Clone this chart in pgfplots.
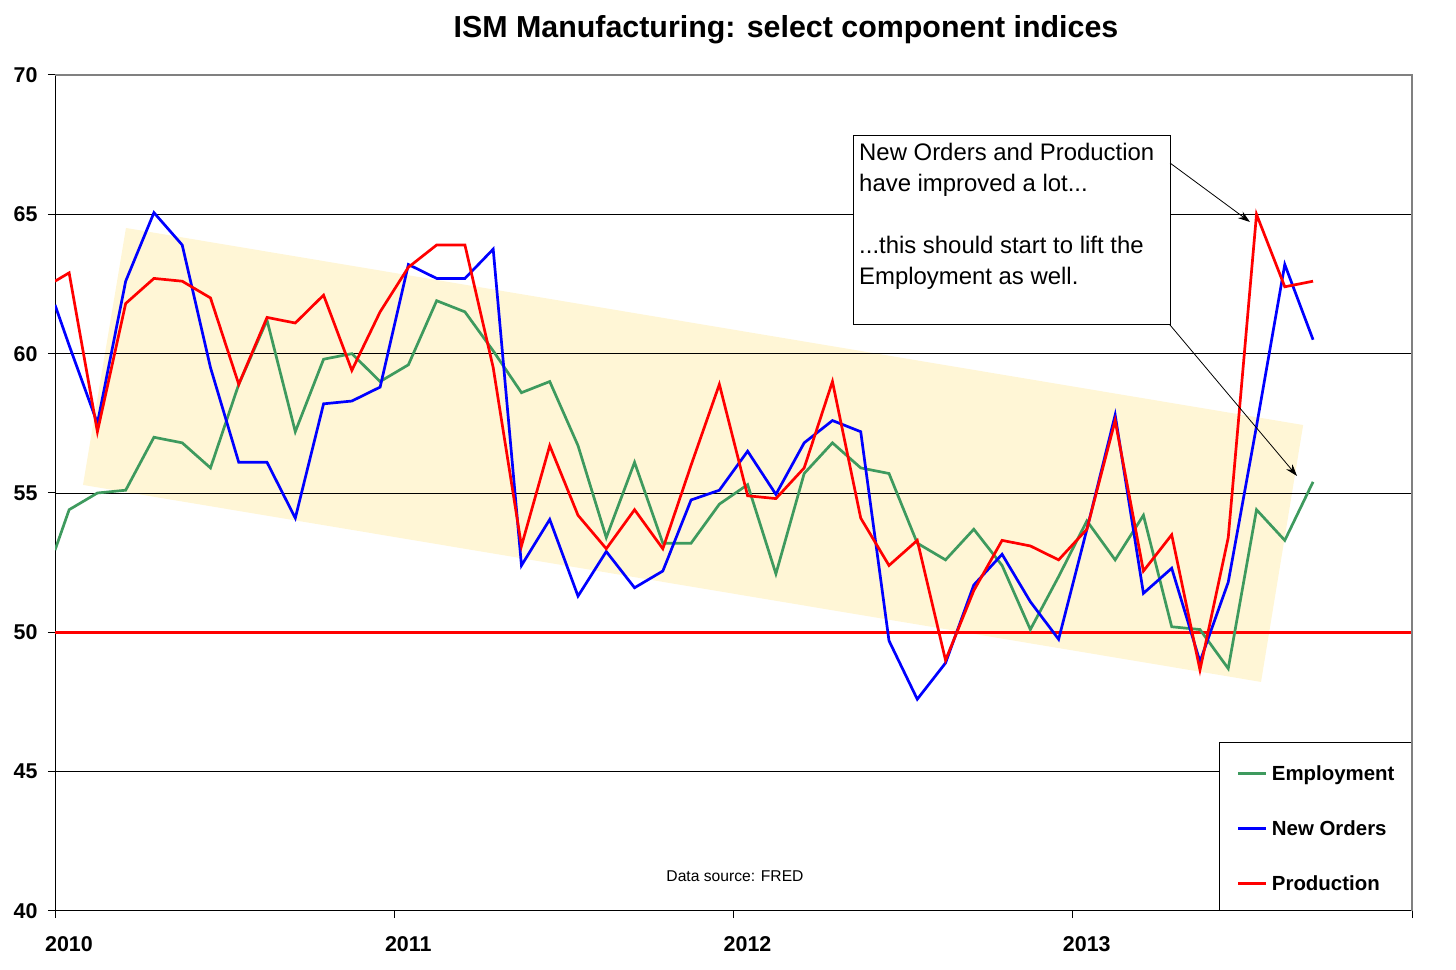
\documentclass[border=0pt]{standalone}
\usepackage{pgfplots}
\pgfplotsset{compat=1.18}
\usepackage{fontspec}
\setmainfont{Liberation Sans}
\usetikzlibrary{arrows.meta}
\definecolor{empgreen}{RGB}{62,154,94}
\definecolor{bandyellow}{RGB}{255,246,214}
\definecolor{bordergray}{RGB}{128,128,128}

\begin{document}
\begin{tikzpicture}
\path (0,0) rectangle (1456bp,970bp);
\begin{axis}[
  at={(55bp,59bp)}, anchor=south west,
  scale only axis, width=1357bp, height=836bp,
  xmin=0, xmax=48, ymin=40, ymax=70,
  axis x line*=bottom, axis y line*=left,
  axis line style={black, line width=1bp},
  xtick={0,12,24,36,48}, xticklabels={2010,2011,2012,2013,},
  ytick={40,45,...,70},
  tick align=outside, major tick length=7bp,
  tick style={black, line width=1bp},
  tick label style={font=\fontsize{21.5}{25}\selectfont\bfseries},
  /pgf/number format/assume math mode=true,
  xticklabel style={xshift=14bp, yshift=-15bp},
  yticklabel style={xshift=-7bp},
  legend style={at={(1,0)}, anchor=south east, draw=black, line width=1bp, fill=white,
    font=\fontsize{20.5}{24}\selectfont\bfseries, inner xsep=17bp, inner ysep=19bp,
    row sep=35bp, column sep=4bp,
    nodes={text height=19bp, text depth=1bp, inner sep=0pt}},
  legend cell align=left,
  legend image code/.code={\draw[#1, line width=3bp] (0bp,-2bp) -- (28bp,-2bp);},
]
\addplot[fill=bandyellow, draw=none, forget plot]
  coordinates {(2.51,64.51) (44.15,57.44) (42.66,48.22) (0.99,55.29) (2.51,64.51)};
\addplot[black, line width=0.8bp, forget plot] coordinates {(0,45) (48,45)};
\addplot[black, line width=0.8bp, forget plot] coordinates {(0,55) (48,55)};
\addplot[black, line width=0.8bp, forget plot] coordinates {(0,60) (48,60)};
\addplot[black, line width=0.8bp, forget plot] coordinates {(0,65) (48,65)};
\addplot[red, line width=3.2bp, forget plot] coordinates {(0,50) (48,50)};
\addplot[empgreen, line width=2.7bp] coordinates {
(0,52.95) (0.5,54.4) (1.5,55.0) (2.5,55.1) (3.5,57.0) (4.5,56.8) (5.5,55.9) (6.5,58.9)
(7.5,61.2) (8.5,57.2) (9.5,59.8) (10.5,60.0) (11.5,59.0) (12.5,59.6) (13.5,61.9)
(14.5,61.5) (15.5,60.1) (16.5,58.6) (17.5,59.0) (18.5,56.7) (19.5,53.4) (20.5,56.1)
(21.5,53.2) (22.5,53.2) (23.5,54.6) (24.5,55.3) (25.5,52.1) (26.5,55.7) (27.5,56.8)
(28.5,55.9) (29.5,55.7) (30.5,53.2) (31.5,52.6) (32.5,53.7) (33.5,52.4) (34.5,50.1)
(35.5,52.0) (36.5,54.0) (37.5,52.6) (38.5,54.2) (39.5,50.2) (40.5,50.1) (41.5,48.7)
(42.5,54.4) (43.5,53.3) (44.5,55.4)};
\addlegendentry{Employment}
\addplot[blue, line width=2.7bp] coordinates {
(0,61.75) (0.5,60.3) (1.5,57.5) (2.5,62.6) (3.5,65.06) (4.5,63.9) (5.5,59.5) (6.5,56.1)
(7.5,56.1) (8.5,54.1) (9.5,58.2) (10.5,58.3) (11.5,58.8) (12.5,63.2) (13.5,62.7)
(14.5,62.7) (15.5,63.75) (16.5,52.4) (17.5,54.05) (18.5,51.3) (19.5,52.9) (20.5,51.6)
(21.5,52.2) (22.5,54.75) (23.5,55.1) (24.5,56.5) (25.5,54.95) (26.5,56.8) (27.5,57.6)
(28.5,57.2) (29.5,49.7) (30.5,47.6) (31.5,48.9) (32.5,51.7) (33.5,52.8) (34.5,51.1)
(35.5,49.75) (36.5,53.7) (37.5,57.8) (38.5,51.4) (39.5,52.3) (40.5,48.95) (41.5,51.8)
(42.5,57.4) (43.5,63.2) (44.5,60.5)};
\addlegendentry{New Orders}
\addplot[red, line width=2.7bp] coordinates {
(0,62.6) (0.5,62.9) (1.5,57.2) (2.5,61.8) (3.5,62.7) (4.5,62.6) (5.5,62.0) (6.5,58.9)
(7.5,61.3) (8.5,61.1) (9.5,62.1) (10.5,59.4) (11.5,61.5) (12.5,63.1) (13.5,63.9)
(14.5,63.9) (15.5,59.5) (16.5,53.1) (17.5,56.7) (18.5,54.2) (19.5,53.0) (20.5,54.4)
(21.5,53.0) (22.5,56.0) (23.5,58.9) (24.5,54.9) (25.5,54.8) (26.5,55.9) (27.5,59.0)
(28.5,54.1) (29.5,52.4) (30.5,53.3) (31.5,49.0) (32.5,51.5) (33.5,53.3) (34.5,53.1)
(35.5,52.6) (36.5,53.7) (37.5,57.6) (38.5,52.2) (39.5,53.5) (40.5,48.65) (41.5,53.4)
(42.5,65.0) (43.5,62.4) (44.5,62.6)};
\addlegendentry{Production}
\end{axis}
% gray plot-area border (top and right)
\draw[bordergray, line width=1.5bp] (55bp,895bp) -- (1412bp,895bp) -- (1412bp,59bp);
% title
\node[font=\fontsize{30.5}{36}\selectfont\bfseries] at (786bp,940bp) {ISM Manufacturing: select component indices};
% data source
\node[font=\fontsize{15.7}{19}\selectfont] at (735bp,94bp) {Data source: FRED};
% annotation
\draw[black, line width=1bp, fill=white] (853bp,834bp) rectangle (1170bp,645bp);
\node[anchor=north west, align=left, inner sep=0pt, font=\fontsize{24}{31}\selectfont] at (859bp,827bp)
  {New Orders and Production\\have improved a lot...\\~\\...this should start to lift the\\Employment as well.};
\draw[-{Stealth[length=12bp,width=8bp]}, line width=0.8bp] (1170bp,807bp) -- (1250bp,748bp);
\draw[-{Stealth[length=12bp,width=8bp]}, line width=0.8bp] (1170bp,645bp) -- (1297bp,494bp);
\end{tikzpicture}
\end{document}
